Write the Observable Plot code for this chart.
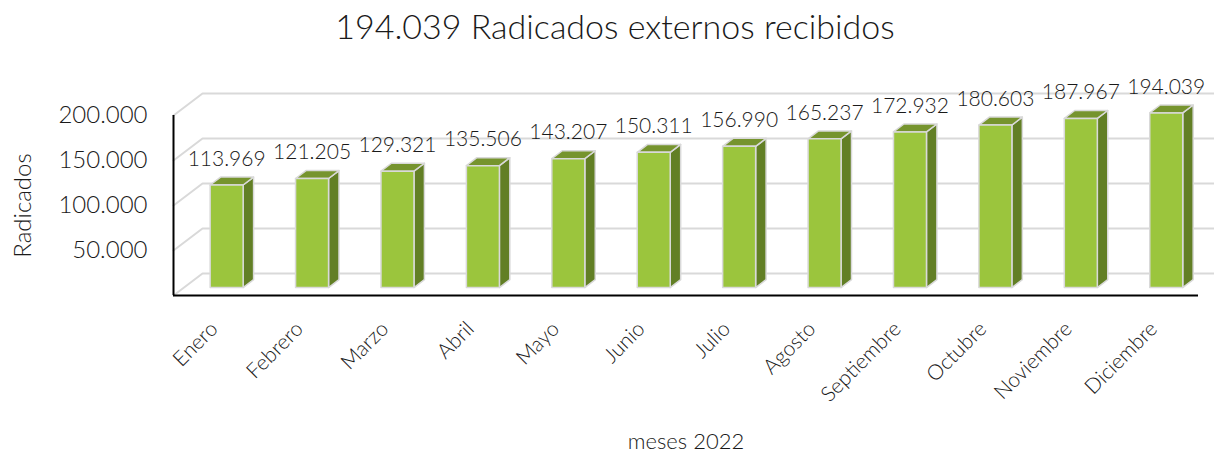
<!DOCTYPE html>
<html>
<head>
<meta charset="utf-8">
<script src="https://cdn.jsdelivr.net/npm/d3@7"></script>
<script src="https://cdn.jsdelivr.net/npm/@observablehq/plot@0.6"></script>
<style>
  html, body { margin: 0; padding: 0; background: #fff; overflow: hidden; }
  #title { height: 56px; box-sizing: border-box; padding-top: 6px; padding-left: 16px; text-align: center;
           font-family: "Lato", sans-serif; font-weight: 300; font-size: 34px; color: #1a1a1a; line-height: 40px; }
  #chart svg { display: block; }
</style>
</head>
<body>
<div id="title">194.039 Radicados externos recibidos</div>
<div id="chart"></div>
<script>
const months = ["Enero","Febrero","Marzo","Abril","Mayo","Junio","Julio","Agosto","Septiembre","Octubre","Noviembre","Diciembre"];
const values = [113969,121205,129321,135506,143207,150311,156990,165237,172932,180603,187967,194039];
const yTicks = [50000,100000,150000,200000];
const gridValues = [0,50000,100000,150000,200000];
const yLabel = "Radicados";
const xLabel = "meses 2022";

const W = 1214, H = 401, mL = 173, mR = 16, mT = 59, mB = 162;
const xDomain = [-0.5, months.length - 0.5];
const yDomain = [0, 200000];
const kx = (W - mL - mR) / (xDomain[1] - xDomain[0]);
const ky = (H - mT - mB) / (yDomain[1] - yDomain[0]);
const depth = {dx: 29, dy: 22};
const ox = d => depth.dx * d / kx;
const oy = d => depth.dy * d / ky;
const hw = 16.5 / kx;
const d1 = 0.36, d2 = 0.72;

const fmt = v => d3.format(",")(v).replace(/,/g, ".");

const bars = months.map((m, i) => ({m, i, v: values[i]}));
const frontFaces = [], sideFaces = [], topFaces = [];
bars.forEach(({i, v}) => {
  const l1 = i - hw + ox(d1), r1 = i + hw + ox(d1), l2 = i - hw + ox(d2), r2 = i + hw + ox(d2);
  const b1 = oy(d1), b2 = oy(d2), t1 = v + oy(d1), t2 = v + oy(d2);
  [[l1,b1],[l1,t1],[r1,t1],[r1,b1],[l1,b1]].forEach(([x,y]) => frontFaces.push({k:i,x,y}));
  [[r1,b1],[r1,t1],[r2,t2],[r2,b2],[r1,b1]].forEach(([x,y]) => sideFaces.push({k:i,x,y}));
  [[l1,t1],[l2,t2],[r2,t2],[r1,t1],[l1,t1]].forEach(([x,y]) => topFaces.push({k:i,x,y}));
});
const grid = [];
gridValues.forEach(g => {
  grid.push({k:g, x:xDomain[0], y:g});
  grid.push({k:g, x:xDomain[0] + ox(1), y:g + oy(1)});
  grid.push({k:g, x:xDomain[1] + ox(1), y:g + oy(1)});
});

const textColor = "#1a1a1a";
const plot = Plot.plot({
  width: W, height: H,
  marginLeft: mL, marginRight: mR, marginTop: mT, marginBottom: mB,
  x: {domain: xDomain, axis: null},
  y: {domain: yDomain, axis: null},
  style: {fontFamily: "Lato, sans-serif", fontWeight: 300, color: textColor, background: "#fff"},
  marks: [
    Plot.line(grid, {x:"x", y:"y", z:"k", stroke:"#d9d9d9", strokeWidth:2}),
    Plot.line(sideFaces, {x:"x", y:"y", z:"k", fill:"#627f25", stroke:"#d9d9d9", strokeWidth:1.5, strokeLinejoin:"round"}),
    Plot.line(topFaces, {x:"x", y:"y", z:"k", fill:"#76942e", stroke:"#d9d9d9", strokeWidth:1.5, strokeLinejoin:"round"}),
    Plot.line(frontFaces, {x:"x", y:"y", z:"k", fill:"#9bc53d", stroke:"#d9d9d9", strokeWidth:1.5, strokeLinejoin:"round"}),
    Plot.ruleX([xDomain[0]], {y1: yDomain[0], y2: yDomain[1], stroke:"#000", strokeWidth:2}),
    Plot.ruleY([0], {x1: xDomain[0], x2: xDomain[1], stroke:"#000", strokeWidth:2}),
    Plot.text(bars, {x: d => d.i + ox(d1), y: d => d.v + oy(d1), text: d => fmt(d.v), dy: -26, fontSize: 21, fill: textColor}),
    Plot.text(yTicks, {y: d => d, frameAnchor: "left", textAnchor: "end", dx: -26, text: fmt, fontSize: 24, fill: textColor}),
    Plot.text(bars, {x: "i", y: () => 0, text: "m", rotate: -45, textAnchor: "end", dx: -2, dy: 30, fontSize: 21, fill: textColor}),
    Plot.text([yLabel], {frameAnchor: "left", textAnchor: "middle", rotate: -90, dx: -150, text: d => d, fontSize: 24, fill: textColor}),
    Plot.text([xLabel], {frameAnchor: "bottom", lineAnchor: "middle", dy: 146, text: d => d, fontSize: 22, fill: textColor})
  ]
});
document.getElementById("chart").appendChild(plot);
</script>
</body>
</html>
